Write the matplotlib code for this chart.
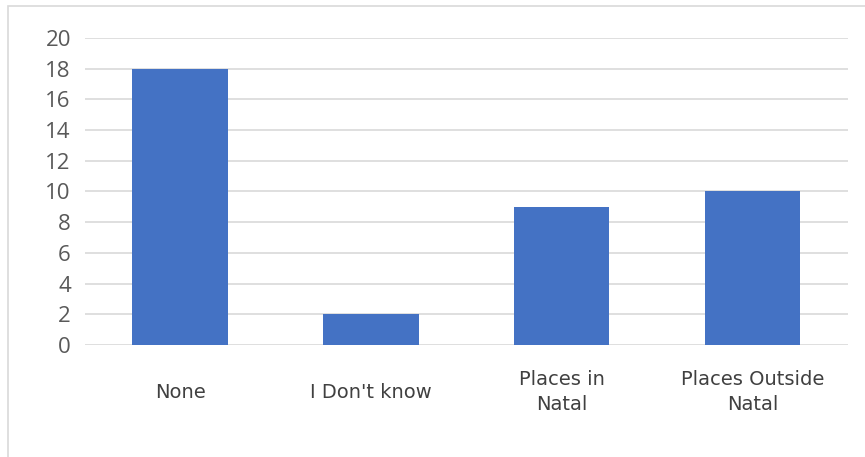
import matplotlib.pyplot as plt
from matplotlib.patches import Rectangle

categories = ["None", "I Don't know", "Places in\nNatal", "Places Outside\nNatal"]
counts = [18, 2, 9, 10]
y_ticks = list(range(0, 21, 2))

fig = plt.figure(figsize=(8.65, 4.57), dpi=100)
ax = fig.add_axes([0.098, 0.245, 0.882, 0.672])

# light frame around the whole chart area
fig.patches.append(Rectangle((8 / 865, -0.1), 1.2, 1.1 - 6 / 457,
                             transform=fig.transFigure, fill=False,
                             edgecolor="#d9d9d9", linewidth=1.2))

x = range(len(categories))
ax.bar(x, counts, width=0.5, color="#4472C4", zorder=3)

ax.set_xlim(-0.5, len(categories) - 0.5)
ax.set_ylim(0, 20)
ax.set_yticks(y_ticks)
ax.set_xticks(list(x))
ax.set_xticklabels(categories, fontsize=14, color="#404040", family="DejaVu Sans",
                   linespacing=1.42, va="center")
ax.tick_params(axis="x", length=0, pad=34)
ax.tick_params(axis="y", length=0, pad=10, labelsize=16, labelcolor="#595959")
for lbl in ax.get_yticklabels():
    lbl.set_family("Open Sans")

ax.grid(axis="y", color="#d9d9d9", linewidth=1.2, zorder=0)
for s in ax.spines.values():
    s.set_visible(False)

fig.savefig("out.png", dpi=100)
